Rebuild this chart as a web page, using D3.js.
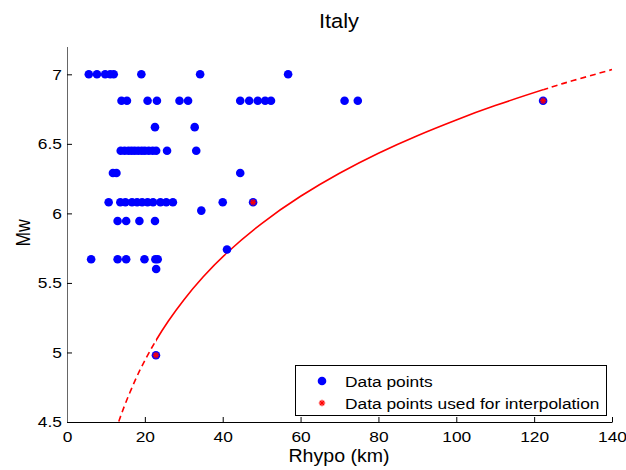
<!DOCTYPE html>
<html><head><meta charset="utf-8">
<script src="https://cdn.jsdelivr.net/npm/d3@7"></script>
<style>
html,body{margin:0;padding:0;background:#fff;}
svg{display:block;font-family:"Liberation Sans",Arial,sans-serif;}
</style></head>
<body><svg id="c" width="626" height="470"></svg>
<script>
// ---- data ----
const rowMw = [7.0, 6.81, 6.62, 6.45, 6.29, 6.08, 6.02, 5.945, 5.74, 5.67, 5.60, 4.98];
const rowRhypo = [
  [5.6, 7.7, 9.8, 11.1, 12.0, 19.1, 34.2, 56.8],
  [14.0, 15.4, 20.7, 23.1, 28.9, 31.1, 44.5, 46.8, 49.0, 50.9, 52.4, 71.3, 74.7, 122.3],
  [22.6, 32.8],
  [13.8, 14.8, 15.8, 16.6, 17.4, 18.3, 19.2, 20.0, 21.0, 22.0, 22.9, 25.7, 33.2],
  [11.8, 12.7, 44.5],
  [10.7, 13.7, 15.0, 16.7, 18.0, 19.3, 20.7, 22.1, 24.0, 25.5, 27.2, 40.0, 47.8],
  [34.5],
  [13.0, 15.2, 18.6, 22.6],
  [41.1],
  [6.2, 13.0, 15.2, 19.9, 22.7, 23.3],
  [22.9],
  [22.85]
];
const interpRhypo = [22.85, 47.8, 122.3];
const interpMw = [4.98, 6.08, 6.81];
const curveRhypo = [13.3, 15, 17.5, 20, 22.85, 26, 30, 35, 41.1, 50, 60, 70, 80, 90, 100, 110, 122.3, 130, 140];
const curveMw    = [4.504, 4.633, 4.799, 4.943, 5.086, 5.224, 5.378, 5.544, 5.717, 5.927, 6.123, 6.289, 6.433, 6.559, 6.672, 6.775, 6.889, 6.955, 7.034];
const xTicks = [0, 20, 40, 60, 80, 100, 120, 140];
const yTicks = [4.5, 5, 5.5, 6, 6.5, 7];
const legendLabels = ["Data points", "Data points used for interpolation"];

// ---- layout ----
const SX = 1.12; // horizontal text stretch seen in the reference
const svg = d3.select("#c");
const L = 67, R = 612, T = 46.5, B = 422;
const x = d3.scaleLinear().domain([0, 140]).range([L, R]);
const y = d3.scaleLinear().domain([4.5, 7.2]).range([B, T]);

const points = [];
rowMw.forEach((m, i) => rowRhypo[i].forEach(r => points.push({r, m})));
const curve = curveRhypo.map((r, i) => ({r, m: curveMw[i]}));
const rMin = d3.min(interpRhypo), rMax = d3.max(interpRhypo);

// axes
const xa = svg.append("g").attr("transform", `translate(0,${B})`)
  .call(d3.axisBottom(x).tickValues(xTicks).tickSizeInner(-5).tickSizeOuter(0).tickPadding(9));
const ya = svg.append("g").attr("transform", `translate(${L},0)`)
  .call(d3.axisLeft(y).tickValues(yTicks).tickFormat(d3.format("")).tickSizeInner(-5).tickSizeOuter(0).tickPadding(4.5));
[xa, ya].forEach(g => {
  g.selectAll("text").attr("font-size", 15.5).attr("fill", "#000")
    .attr("font-family", "Liberation Sans, Arial, sans-serif").attr("transform", `scale(${SX},1)`);
  g.selectAll("line,path").attr("stroke", "#000");
});
ya.select(".domain").attr("stroke", "#666");

// curve (full curve drawn dashed outside the interpolation range, solid inside)
const line = d3.line().x(d => x(d.r)).y(d => y(d.m)).curve(d3.curveNatural);
const defs = svg.append("defs");
defs.append("clipPath").attr("id", "inside").append("rect")
  .attr("x", x(rMin)).attr("y", 0).attr("width", x(rMax) - x(rMin)).attr("height", 470);
defs.append("clipPath").attr("id", "outside").append("path")
  .attr("d", `M0,0H${x(rMin)}V470H0Z M${x(rMax)},0H626V470H${x(rMax)}Z`);
const cg = svg.append("g").attr("fill", "none").attr("stroke", "#ff0000").attr("stroke-width", 1.6);
cg.append("path").datum(curve).attr("d", line).attr("clip-path", "url(#inside)");
cg.append("path").datum(curve).attr("d", line).attr("clip-path", "url(#outside)").attr("stroke-dasharray", "6,4");

// data points
svg.append("g").selectAll("circle").data(points).join("circle")
  .attr("cx", d => x(d.r)).attr("cy", d => y(d.m)).attr("r", 4.3).attr("fill", "#0000ff");

// interpolation star markers
function star(g, cx, cy, s) {
  const a = [[-s,0,s,0],[0,-s,0,s],[-s*0.7,-s*0.7,s*0.7,s*0.7],[-s*0.7,s*0.7,s*0.7,-s*0.7]];
  a.forEach(l => g.append("line").attr("x1", cx+l[0]).attr("y1", cy+l[1]).attr("x2", cx+l[2]).attr("y2", cy+l[3])
    .attr("stroke", "#ff0000").attr("stroke-width", 1.2));
}
const sg = svg.append("g");
interpRhypo.forEach((r, i) => star(sg, x(r), y(interpMw[i]), 3.2));

// title and labels
function stretchedText(px, py, size, txt) {
  return svg.append("text")
    .attr("transform", `translate(${px},${py}) scale(${SX},1)`)
    .attr("text-anchor", "middle").attr("font-size", size).text(txt);
}
stretchedText(339, 28, 19.5, "Italy");
stretchedText(339, 462, 17.5, "Rhypo (km)");
svg.append("text").attr("transform", "translate(30,233) rotate(-90) scale(1,1.12)")
  .attr("text-anchor", "middle").attr("font-size", 17.5).text("Mw");

// legend
const lg = svg.append("g");
lg.append("rect").attr("x", 295.5).attr("y", 365.5).attr("width", 311).attr("height", 50)
  .attr("fill", "#fff").attr("stroke", "#000").attr("stroke-width", 1);
lg.append("circle").attr("cx", 322).attr("cy", 381).attr("r", 4.3).attr("fill", "#0000ff");
star(lg, 322, 403, 3.2);
legendLabels.forEach((t, i) => lg.append("text")
  .attr("transform", `translate(345,${386.5 + i*22}) scale(${SX},1)`).attr("font-size", 15.5).text(t));
</script></body></html>
